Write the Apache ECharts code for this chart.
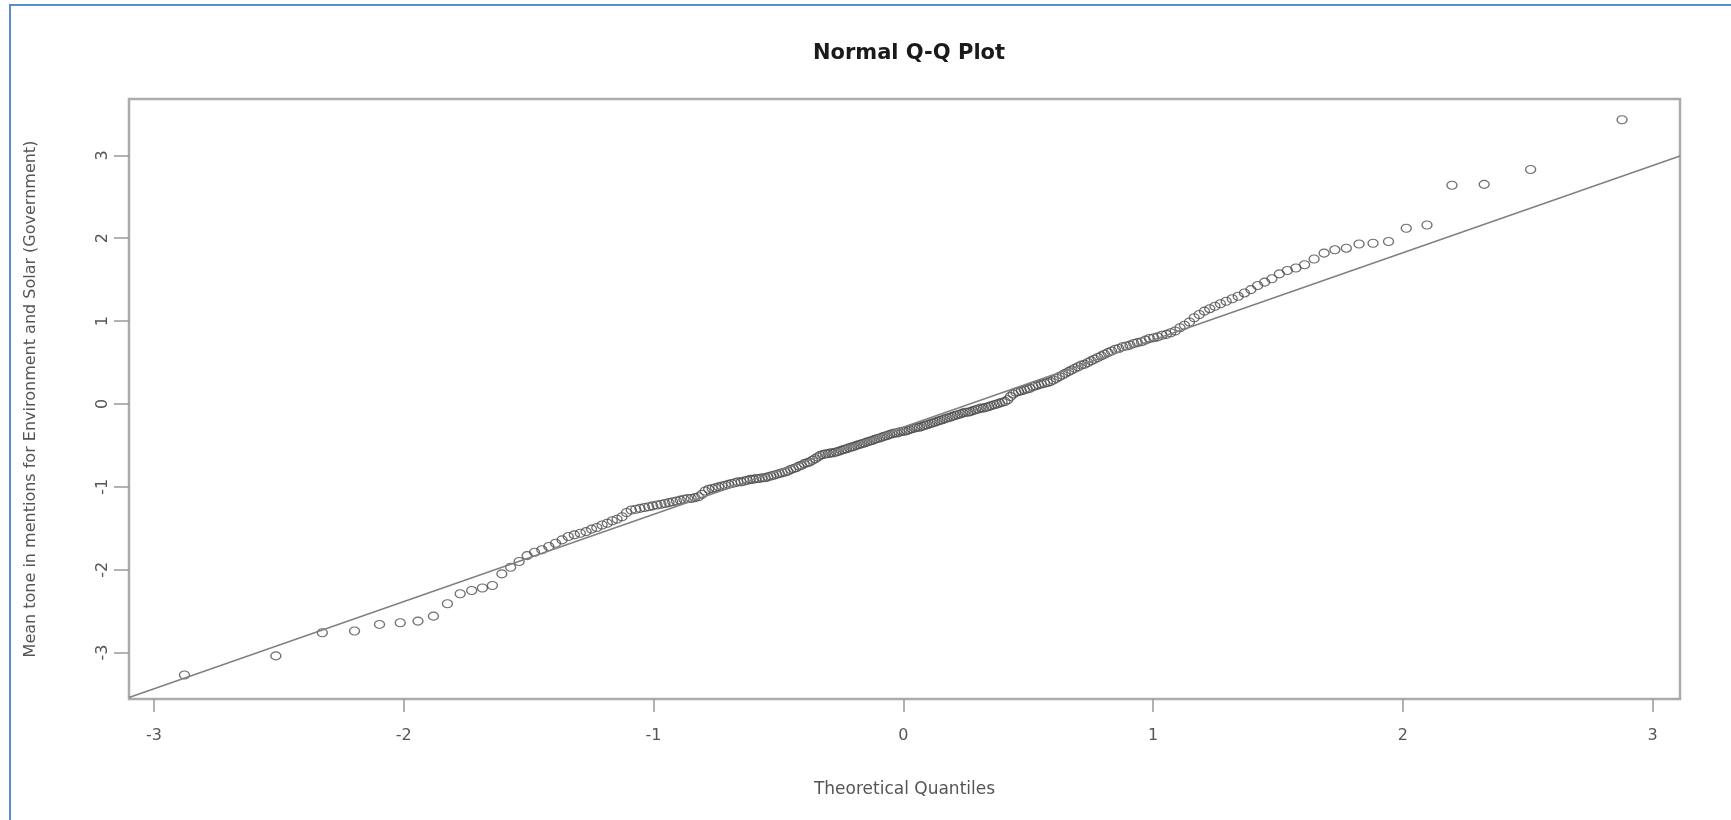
<!DOCTYPE html>
<html><head><meta charset="utf-8">
<script src="https://cdn.jsdelivr.net/npm/echarts@6/dist/echarts.min.js"></script>
<style>
html,body{margin:0;padding:0;background:#fff;overflow:hidden;}
#c{position:absolute;left:0;top:0;width:1731px;height:820px;}
#frame{position:absolute;left:9px;top:4px;width:1730px;height:830px;border-top:2px solid #5b8bd3;border-left:2px solid #5b8bd3;pointer-events:none;}
</style>
</head><body><div id="c"></div><div id="frame"></div>
<script>
const titleText = 'Normal Q-Q Plot';
const xAxisTitle = 'Theoretical Quantiles';
const yAxisTitle = 'Mean tone in mentions for Environment and Solar (Government)';
const xTicks = [-3, -2, -1, 0, 1, 2, 3];
const yTicks = [-3, -2, -1, 0, 1, 2, 3];
const xRange = [-3.10, 3.11];
const yRange = [-3.56, 3.68];

// theoretical normal quantiles (x positions of the 250 points)
const theoreticalQ = [
-2.878,-2.512,-2.326,-2.197,-2.097,-2.014,-1.943,-1.881,-1.825,-1.774,
-1.728,-1.685,-1.645,-1.607,-1.572,-1.538,-1.506,-1.476,-1.447,-1.419,
-1.392,-1.366,-1.341,-1.317,-1.293,-1.270,-1.248,-1.227,-1.206,-1.185,
-1.165,-1.146,-1.126,-1.108,-1.089,-1.071,-1.054,-1.036,-1.019,-1.003,
-0.986,-0.970,-0.954,-0.938,-0.923,-0.908,-0.893,-0.878,-0.863,-0.849,
-0.834,-0.820,-0.806,-0.793,-0.779,-0.765,-0.752,-0.739,-0.726,-0.713,
-0.700,-0.687,-0.674,-0.662,-0.649,-0.637,-0.625,-0.613,-0.601,-0.589,
-0.577,-0.565,-0.553,-0.542,-0.530,-0.519,-0.507,-0.496,-0.485,-0.473,
-0.462,-0.451,-0.440,-0.429,-0.418,-0.407,-0.396,-0.385,-0.375,-0.364,
-0.353,-0.342,-0.332,-0.321,-0.311,-0.300,-0.290,-0.279,-0.269,-0.259,
-0.248,-0.238,-0.228,-0.217,-0.207,-0.197,-0.187,-0.176,-0.166,-0.156,
-0.146,-0.136,-0.126,-0.116,-0.106,-0.095,-0.085,-0.075,-0.065,-0.055,
-0.045,-0.035,-0.025,-0.015,-0.005,
0.005,0.015,0.025,0.035,0.045,0.055,0.065,0.075,0.085,0.095,
0.106,0.116,0.126,0.136,0.146,0.156,0.166,0.176,0.187,0.197,
0.207,0.217,0.228,0.238,0.248,0.259,0.269,0.279,0.290,0.300,
0.311,0.321,0.332,0.342,0.353,0.364,0.375,0.385,0.396,0.407,
0.418,0.429,0.440,0.451,0.462,0.473,0.485,0.496,0.507,0.519,
0.530,0.542,0.553,0.565,0.577,0.589,0.601,0.613,0.625,0.637,
0.649,0.662,0.674,0.687,0.700,0.713,0.726,0.739,0.752,0.765,
0.779,0.793,0.806,0.820,0.834,0.849,0.863,0.878,0.893,0.908,
0.923,0.938,0.954,0.970,0.986,1.003,1.019,1.036,1.054,1.071,
1.089,1.108,1.126,1.146,1.165,1.185,1.206,1.227,1.248,1.270,
1.293,1.317,1.341,1.366,1.392,1.419,1.447,1.476,1.506,1.538,
1.572,1.607,1.645,1.685,1.728,1.774,1.825,1.881,1.943,2.014,
2.097,2.197,2.326,2.512,2.878
];

// sample quantiles
const sampleQ = [
-3.27,-3.04,-2.76,-2.74,-2.66,-2.64,-2.62,-2.56,-2.41,-2.29,
-2.25,-2.22,-2.19,-2.05,-1.97,-1.90,-1.83,-1.79,-1.76,-1.72,
-1.68,-1.64,-1.60,-1.58,-1.56,-1.54,-1.51,-1.49,-1.46,-1.44,
-1.41,-1.39,-1.36,-1.31,-1.28,-1.27,-1.26,-1.25,-1.24,-1.23,
-1.22,-1.21,-1.20,-1.19,-1.18,-1.17,-1.16,-1.15,-1.14,-1.14,
-1.13,-1.12,-1.09,-1.05,-1.03,-1.02,-1.01,-1.00,-0.99,-0.98,
-0.97,-0.96,-0.95,-0.94,-0.94,-0.93,-0.92,-0.91,-0.91,-0.90,
-0.90,-0.89,-0.89,-0.88,-0.87,-0.86,-0.85,-0.84,-0.83,-0.82,
-0.81,-0.79,-0.78,-0.77,-0.75,-0.74,-0.72,-0.71,-0.70,-0.68,
-0.66,-0.64,-0.62,-0.61,-0.60,-0.60,-0.59,-0.59,-0.58,-0.57,
-0.56,-0.55,-0.54,-0.53,-0.52,-0.51,-0.50,-0.49,-0.48,-0.47,
-0.46,-0.45,-0.44,-0.43,-0.42,-0.41,-0.40,-0.39,-0.38,-0.37,
-0.36,-0.35,-0.35,-0.34,-0.33,
-0.33,-0.32,-0.31,-0.30,-0.29,-0.28,-0.28,-0.27,-0.26,-0.25,
-0.24,-0.23,-0.22,-0.21,-0.20,-0.19,-0.18,-0.17,-0.16,-0.15,
-0.14,-0.13,-0.12,-0.11,-0.10,-0.10,-0.09,-0.08,-0.07,-0.06,
-0.05,-0.05,-0.04,-0.03,-0.02,-0.01,0.00,0.01,0.02,0.03,
0.05,0.09,0.12,0.14,0.15,0.16,0.17,0.18,0.19,0.21,
0.22,0.23,0.24,0.25,0.26,0.27,0.29,0.31,0.33,0.35,
0.37,0.39,0.41,0.43,0.45,0.47,0.48,0.50,0.52,0.54,
0.56,0.58,0.60,0.62,0.64,0.66,0.67,0.69,0.70,0.71,
0.73,0.74,0.75,0.77,0.79,0.80,0.81,0.83,0.84,0.86,
0.88,0.92,0.95,0.99,1.04,1.08,1.12,1.15,1.18,1.21,
1.24,1.27,1.30,1.34,1.38,1.43,1.47,1.51,1.57,1.61,
1.64,1.68,1.75,1.82,1.86,1.88,1.93,1.94,1.96,2.12,
2.16,2.64,2.65,2.83,3.43
];

// reference line (qqline) parameters
const qqLineIntercept = -0.28;
const qqLineSlope = 1.052;

const font = 'DejaVu Sans';
const points = theoreticalQ.map((x, i) => [x, sampleQ[i]]);
const linePts = xRange.map(x => [x, qqLineIntercept + qqLineSlope * x]);

const chart = echarts.init(document.getElementById('c'), null, {renderer: 'canvas'});
chart.setOption({
  animation: false,
  backgroundColor: '#ffffff',
  title: {
    text: titleText, left: 904, top: 38, textAlign: 'center',
    textStyle: {fontFamily: font, fontSize: 21, fontWeight: 'bold', color: '#1a1a1a'}
  },
  grid: {left: 129, right: 51, top: 99, bottom: 121, show: true,
         borderColor: '#ababab', borderWidth: 2.5, backgroundColor: 'rgba(0,0,0,0)'},
  xAxis: {
    type: 'value', min: xRange[0], max: xRange[1],
    axisLine: {show: false, onZero: false}, splitLine: {show: false},
    axisTick: {show: true, length: 13, customValues: xTicks, lineStyle: {color: '#999', width: 1.5}},
    axisLabel: {customValues: xTicks, margin: 29, fontFamily: font, fontSize: 16, color: '#555'},
    name: xAxisTitle, nameLocation: 'middle', nameGap: 82,
    nameTextStyle: {fontFamily: font, fontSize: 17, color: '#555'}
  },
  yAxis: {
    type: 'value', min: yRange[0], max: yRange[1],
    axisLine: {show: false, onZero: false}, splitLine: {show: false},
    axisTick: {show: true, length: 15, customValues: yTicks, lineStyle: {color: '#999', width: 1.5}},
    axisLabel: {customValues: yTicks, rotate: 90, margin: 18, fontFamily: font, fontSize: 16, color: '#555'},
    name: yAxisTitle, nameLocation: 'middle', nameGap: 90, nameRotate: 90,
    nameTextStyle: {fontFamily: font, fontSize: 16, color: '#555'}
  },
  series: [
    {
      type: 'scatter', data: points, symbol: 'circle', symbolSize: [10, 8],
      itemStyle: {color: 'rgba(0,0,0,0)', borderColor: '#4a4a4a', borderWidth: 1.2},
      emphasis: {disabled: true}, silent: true, z: 2
    },
    {
      type: 'line', data: linePts, symbol: 'none', clip: true,
      lineStyle: {color: '#808080', width: 1.5}, silent: true, z: 3
    }
  ]
});
</script>
</body></html>
